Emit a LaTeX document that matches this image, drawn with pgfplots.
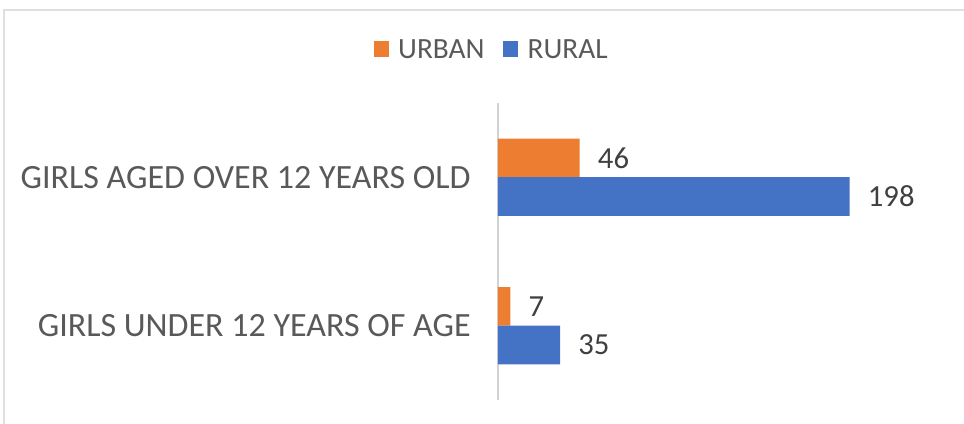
\documentclass[border=0pt]{standalone}
\usepackage{fontspec}
\setmainfont{Carlito}
\usepackage{pgfplots}
\pgfplotsset{compat=1.18}
\definecolor{urban}{HTML}{ED7D31}
\definecolor{rural}{HTML}{4472C4}
\definecolor{txt}{HTML}{595959}
\definecolor{num}{HTML}{404040}
\begin{document}
\begin{tikzpicture}
\path[use as bounding box] (0,0) rectangle (723pt,318pt);
\draw[gray!25, line width=1.5pt] (3pt,-10pt) rectangle (740pt,310.5pt);
\begin{axis}[
  at={(373.5pt,18pt)}, anchor=south west,
  scale only axis, width=333pt, height=222.75pt,
  xmin=0, xmax=250, ymin=-0.5, ymax=1.5,
  xbar, bar width=0.26,
  axis x line=none,
  axis y line*=left,
  y axis line style={draw=gray!35, line width=0.8pt},
  ytick={0,1},
  yticklabels={GIRLS UNDER 12 YEARS OF AGE, GIRLS AGED OVER 12 YEARS OLD},
  major tick length=0pt,
  yticklabel style={font=\fontsize{25.5}{27}\selectfont, text=txt, xshift=-17pt},
  nodes near coords,
  /pgf/number format/assume math mode=true,
  nodes near coords style={font=\fontsize{23}{24}\selectfont, text=num, anchor=west, inner sep=0pt, xshift=13.5pt},
  legend columns=2,
  legend style={at={(axis description cs:-0.0135,1.178)}, anchor=center, draw=none, fill=none,
    font=\fontsize{22}{24}\selectfont, text=txt,
    /tikz/every even column/.append style={column sep=12pt}},
  legend image code/.code={\fill[#1] (0cm,-0.19cm) rectangle (0.4cm,0.23cm);},
]
\addplot[fill=urban, draw=none, bar shift=0.13] coordinates {(7,0) (46,1)};
\addplot[fill=rural, draw=none, bar shift=-0.13] coordinates {(35,0) (198,1)};
\legend{\hspace{5pt}URBAN, \hspace{5pt}RURAL}
\end{axis}
\end{tikzpicture}
\end{document}
